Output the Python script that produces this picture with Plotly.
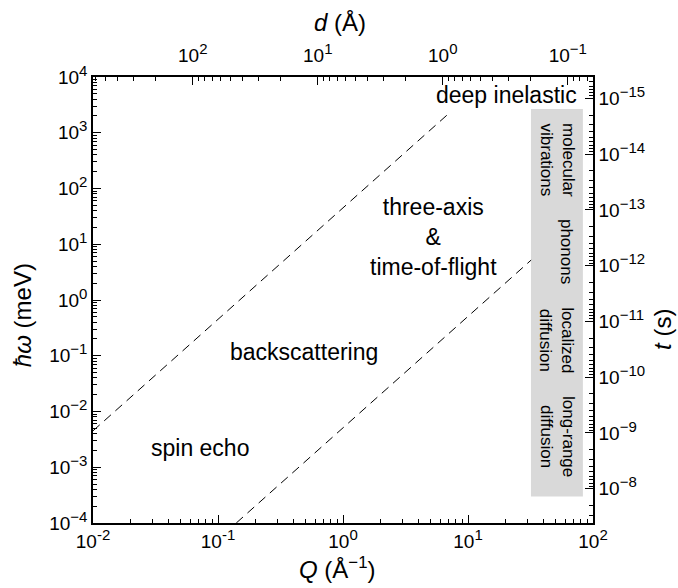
import numpy as np
import plotly.graph_objects as go

# ---- data ----
H_MEV_S = 4.1357e-12  # Planck constant in meV*s, t = h / E
line1_Q = [0.01, 7.2]
line1_E = [4.5e-3, 2330]
line2_Q = [0.14, 32.0]
line2_E = [1.0e-4, 5.2]

box_Q = [31.9, 83.0]
box_E = [3.0e-4, 2.67e3]

region_labels = ["deep inelastic", "three-axis<br>&<br>time-of-flight", "backscattering", "spin echo"]
region_Q = [20.5, 5.25, 0.488, 0.072]
region_E = [4750, 13.5, 0.117, 2.2e-3]

box_labels = ["molecular<br>vibrations", "phonons", "localized<br>diffusion", "long-range<br>diffusion"]
box_label_E = [325.0, 7.3, 0.19, 3.5e-3]

Q_ticks = [0.01, 0.1, 1, 10, 100]
Q_exp = ["-2", "-1", "0", "1", "2"]
d_ticks = [100, 10, 1, 0.1]
d_exp = ["2", "1", "0", "−1"]
E_ticks = [1e-4, 1e-3, 1e-2, 1e-1, 1, 10, 100, 1e3, 1e4]
E_exp = ["−4", "−3", "−2", "−1", "0", "1", "2", "3", "4"]
t_ticks = [1e-15, 1e-14, 1e-13, 1e-12, 1e-11, 1e-10, 1e-9, 1e-8]
t_exp = ["−15", "−14", "−13", "−12", "−11", "−10", "−9", "−8"]


def pow_text(exps):
    return ["10<sup><span style='font-size:15px'>%s</span></sup>" % e for e in exps]


def minors(lo, hi):
    return [m * 10.0 ** e for e in range(lo, hi) for m in range(2, 10)]


FONT = "Liberation Sans, Arial, sans-serif"
fig = go.Figure()

fig.add_trace(go.Scatter(x=line1_Q, y=line1_E, mode="lines",
                         line=dict(color="black", width=1, dash="9px,6px"), hoverinfo="skip"))
fig.add_trace(go.Scatter(x=line2_Q, y=line2_E, mode="lines",
                         line=dict(color="black", width=1, dash="9px,6px"), hoverinfo="skip"))
# invisible trace to activate secondary axes
fig.add_trace(go.Scatter(x=[1], y=[1e-12], xaxis="x2", yaxis="y2", mode="markers",
                         marker=dict(opacity=0), hoverinfo="skip"))

fig.add_shape(type="rect", xref="x", yref="y", x0=box_Q[0], x1=box_Q[1], y0=box_E[0], y1=box_E[1],
              fillcolor="#d9d9d9", line=dict(width=0), layer="below")

for txt, q, e in zip(region_labels, region_Q, region_E):
    fig.add_annotation(x=np.log10(q), y=np.log10(e), xref="x", yref="y", text=txt, showarrow=False,
                       font=dict(family=FONT, size=23, color="black"), align="center")

box_mid = np.sqrt(box_Q[0] * box_Q[1])
for txt, e in zip(box_labels, box_label_E):
    xs = 0 if "<br>" in txt else 9
    fig.add_annotation(x=np.log10(box_mid), y=np.log10(e), xref="x", yref="y", text=txt, showarrow=False,
                       textangle=90, xshift=xs, font=dict(family=FONT, size=17, color="black"), align="center")

axis_common = dict(type="log", showgrid=False, zeroline=False, showline=True, linecolor="black",
                   linewidth=1.5, ticks="inside", ticklen=8, tickcolor="black", tickwidth=1,
                   tickfont=dict(family=FONT, size=19, color="black"))
minor_common = dict(ticks="inside", ticklen=4, tickcolor="black", tickwidth=1)

fig.update_layout(
    width=678, height=588, margin=dict(l=93, r=85, t=77, b=65),
    paper_bgcolor="white", plot_bgcolor="white", showlegend=False,
    xaxis=dict(**axis_common, range=[-2, 2], tickvals=Q_ticks, ticktext=pow_text(Q_exp),
               minor=dict(**minor_common, tickvals=minors(-2, 2)), side="bottom"),
    xaxis2=dict(**axis_common, overlaying="x", side="top",
                range=[np.log10(2 * np.pi / 0.01), np.log10(2 * np.pi / 100)],
                tickvals=d_ticks, ticktext=pow_text(d_exp), ticklabelstandoff=6,
                minor=dict(**minor_common, tickvals=minors(-2, 3))),
    yaxis=dict(**axis_common, range=[-4, 4], tickvals=E_ticks, ticktext=pow_text(E_exp),
               minor=dict(**minor_common, tickvals=minors(-4, 4))),
    yaxis2=dict(**axis_common, overlaying="y", side="right",
                range=[np.log10(H_MEV_S / 1e-4), np.log10(H_MEV_S / 1e4)],
                tickvals=t_ticks, ticktext=pow_text(t_exp),
                minor=dict(**minor_common, tickvals=minors(-16, -7))),
)

TITLE_FONT = dict(family=FONT, size=24, color="black")
common_anno = dict(xref="paper", yref="paper", showarrow=False, font=TITLE_FONT,
                   xanchor="center", yanchor="middle")
fig.add_annotation(x=0.488, y=-0.101, text="<i>Q</i> (Å<sup>−1</sup>)", **common_anno)
fig.add_annotation(x=0.494, y=1.123, text="<i>d</i> (Å)", **common_anno)
fig.add_annotation(x=-0.142, y=0.466, text="<i>ħω</i> (meV)", textangle=-90, **common_anno)
fig.add_annotation(x=1.14, y=0.433, text="<i>t</i> (s)", textangle=-90, **common_anno)

fig.write_html("out.html")
